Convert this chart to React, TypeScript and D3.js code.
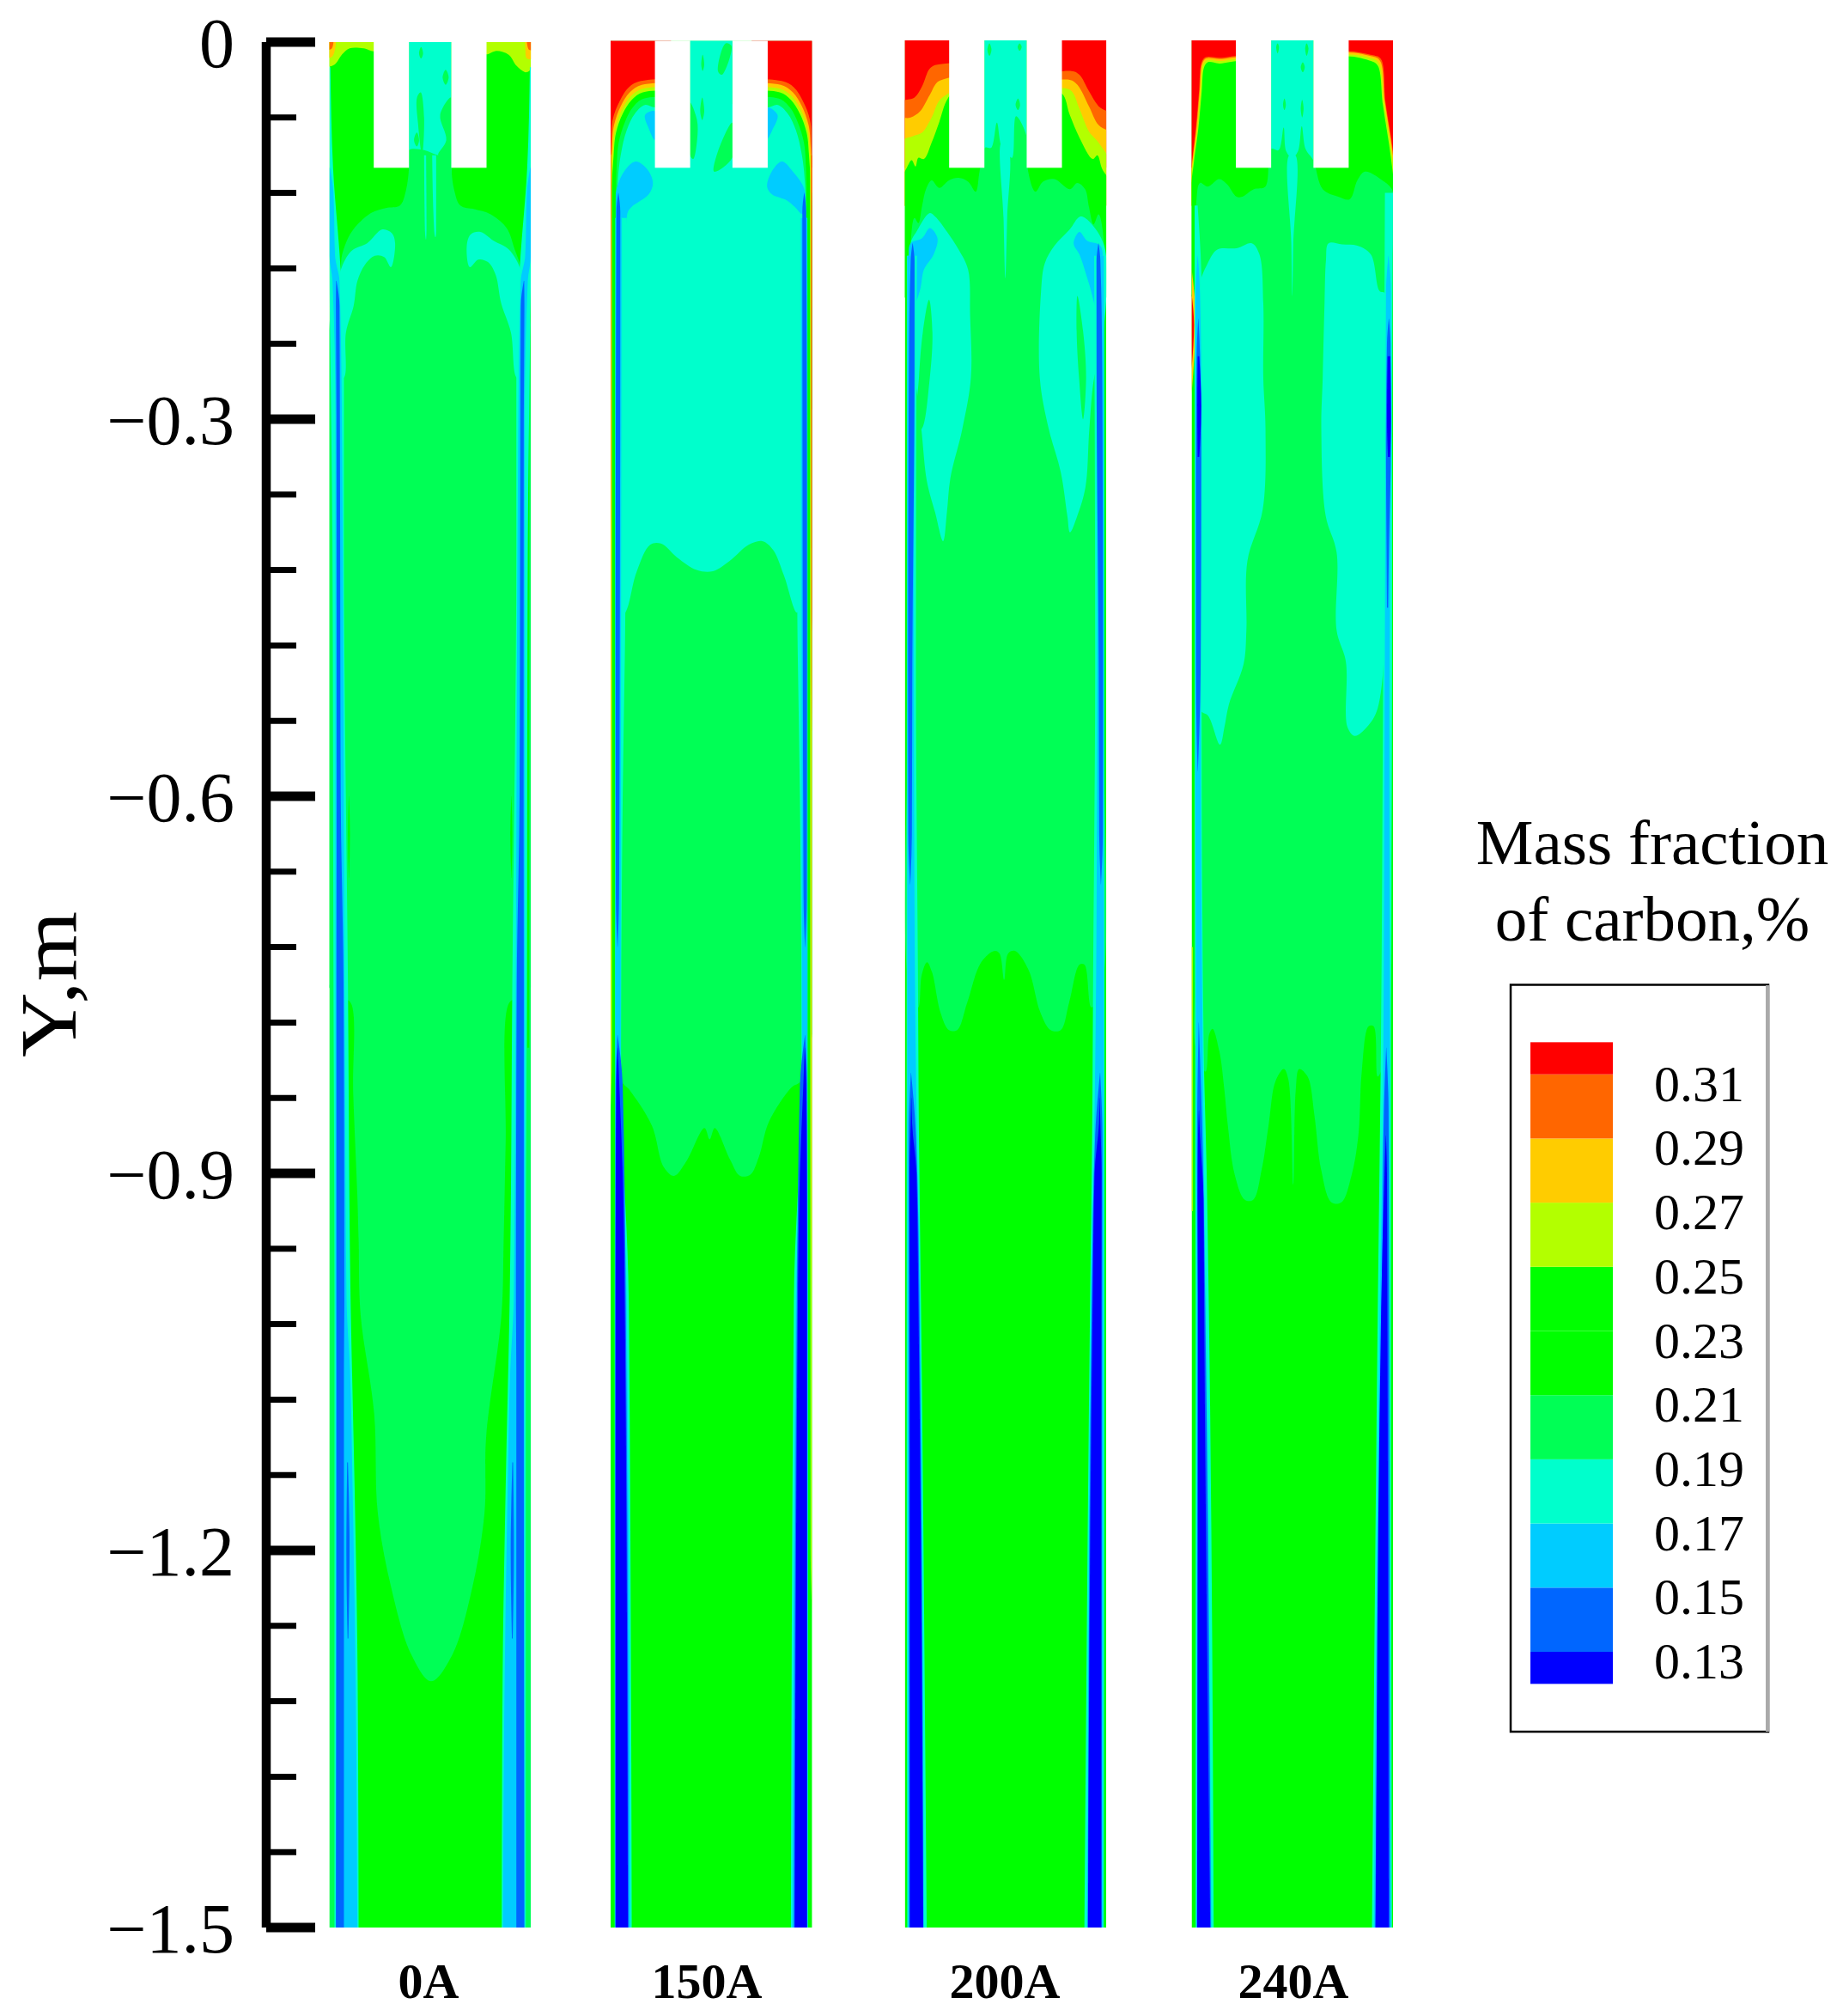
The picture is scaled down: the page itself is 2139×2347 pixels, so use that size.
import { useEffect, useRef } from "react";
import * as d3 from "d3";

type Pt = [number, number];
type Layer = { v: number; pts?: Pt[]; rows?: number[][]; mirror?: boolean };

// poly in [lateral %, depth m], strip rows in [depth m, lateral % from, lateral % to]
const P = (v: number, pts: Pt[], mirror = false): Layer => ({ v, pts, mirror });
const S = (v: number, rows: number[][], mirror = false): Layer => ({ v, rows, mirror });

const legendLevels = [0.31, 0.29, 0.27, 0.25, 0.23, 0.21, 0.19, 0.17, 0.15, 0.13];
const bandLower = [0.12, 0.13, 0.15, 0.17, 0.19, 0.21, 0.23, 0.25, 0.27, 0.29, 0.31];
const bandColors = ["#0000ff", "#0066ff", "#00ccff", "#00ffcc", "#00ff55", "#00ff00", "#00ff00", "#b3ff00", "#ffcc00", "#ff6600", "#ff0000"];

const panelNames = ["0A", "150A", "200A", "240A"];
const majorTicks = [0, -0.3, -0.6, -0.9, -1.2, -1.5];
const minorTicks = d3.range(0, 26).map((i) => -i * 0.06);

const field0A: Layer[] = [
  S(0.17, [[-0.01, 39.5, 60.5], [0.11, 39.5, 60.5]]),
  P(0.25, [[-1, -0.01], [22.5, -0.01], [22.5, 0.007], [17, 0.005], [10, 0.005], [6.3, 0.0098], [2.5, 0.018], [-1, 0.019]]),
  P(0.25, [[77.5, -0.01], [101, -0.01], [101, 0.019], [97.7, 0.024], [93, 0.019], [89, 0.01], [83, 0.007], [77.5, 0.0095]]),
  P(0.27, [[-1, -0.01], [2.6, -0.01], [2.6, 0.007], [1, 0.012], [-1, 0.012]]),
  P(0.29, [[-1, -0.01], [1.5, -0.01], [1.2, 0.005], [-1, 0.006]]),
  P(0.27, [[97.5, -0.01], [101, -0.01], [101, 0.013], [98, 0.013], [97.3, 0.005]]),
  P(0.29, [[98.5, -0.01], [101, -0.01], [101, 0.006], [99, 0.006]]),
  P(0.19, [
    [39.5, 0.086], [39.5, 0.1], [38, 0.118], [35, 0.13], [28, 0.132], [20.6, 0.136], [11, 0.151], [6.3, 0.169], [5.5, 0.18], [2, 0.2], [-1, 0.25], [-1, 0.75], [7, 0.76],
    [10.8, 0.765], [11.8, 0.836], [13.8, 0.915], [14.5, 0.954], [15.5, 1.013], [22.2, 1.091], [24, 1.17], [30.6, 1.229], [40.7, 1.283], [50.5, 1.304], [61, 1.283], [71, 1.229], [77, 1.17], [77.8, 1.11], [85.4, 1.013], [86.5, 0.954], [87.5, 0.875], [89, 0.765],
    [93, 0.76], [101, 0.75], [101, 0.25], [98, 0.2], [94.9, 0.178], [92, 0.165], [88, 0.148], [80, 0.137], [72, 0.133], [65, 0.13], [62, 0.118], [60.5, 0.1], [60.5, 0.09], [54, 0.09], [47, 0.086],
  ]),
  P(0.19, [[44.5, 0.009], [45.5, 0.004], [46.5, 0.009], [45.5, 0.013]]),
  P(0.19, [[56.2, 0.028], [57.7, 0.022], [59.2, 0.028], [57.7, 0.034]]),
  P(0.19, [[43.5, 0.044], [45.3, 0.04], [47, 0.06], [46, 0.09], [44, 0.065]]),
  P(0.19, [[60.5, 0.044], [55, 0.058], [58, 0.078], [54, 0.09], [60.5, 0.09]]),
  P(0.19, [[42, 0.078], [43.4, 0.072], [44.5, 0.078], [43.4, 0.083]]),
  S(0.17, [[0.09, 47, 48], [0.15, 47.4, 48.2], [0.157, 47.8, 48]]),
  S(0.17, [[0.09, 51, 53], [0.15, 52, 53], [0.155, 52.4, 52.8]]),
  P(0.17, [[5.7, 0.181], [11, 0.166], [18.7, 0.16], [26.3, 0.149], [31, 0.152], [32.6, 0.16], [30.5, 0.179], [27.2, 0.171], [22.5, 0.17], [17.7, 0.177], [13.9, 0.19], [12, 0.21], [8.2, 0.231], [7.2, 0.267], [4, 0.267], [4, 0.2]]),
  P(0.17, [[94.9, 0.181], [89.1, 0.165], [81.5, 0.158], [74.9, 0.151], [70.1, 0.153], [68.2, 0.162], [69.7, 0.179], [73.9, 0.173], [78.7, 0.175], [82.5, 0.185], [85.3, 0.208], [90.1, 0.231], [93, 0.267], [96, 0.267], [96, 0.2]]),
  S(0.19, [[0.75, 0, 3], [1.51, 0, 3]], true),
  S(0.21, [[0.6, 9.6, 9.7], [0.63, 9.2, 10.2], [0.665, 9.6, 9.7]], true),
  S(0.21, [[0.25, 98.2, 99.2], [0.8, 98.2, 99.2]]),
  S(0.17, [[0.02, 0, 0.5], [0.1, 0, 1.8], [0.18, 0, 5.5], [0.25, 0.5, 7.2], [0.4, 1.5, 7.2], [0.75, 2, 9.2], [1.0, 2.5, 10.5], [1.15, 2.5, 12.5], [1.3, 2.5, 14], [1.51, 2.5, 14.5]], true),
  S(0.15, [[0.1, 0, 0.3], [0.12, 0, 2], [0.17, 0, 2.8], [0.19, 1.5, 5], [0.3, 3, 6.2], [0.75, 3, 7.5], [1.0, 3, 8.5], [1.056, 3.2, 10.2], [1.15, 3.2, 11.5], [1.3, 3.2, 13], [1.51, 3.2, 13.9]], true),
  S(0.13, [[0.19, 3.3, 3.5], [0.21, 3.2, 5], [0.3, 3.5, 5.2], [0.6, 3.6, 5.6], [0.75, 3.5, 7], [1.0, 3.5, 7.4], [1.056, 3.5, 7.2], [1.51, 3.2, 7.2]], true),
  S(0.13, [[1.13, 8.8, 9.2], [1.2, 8.4, 10], [1.27, 9, 9.4]], true),
];

const field150A: Layer[] = [
  S(0.31, [[-0.01, -1, 30], [0.1, -1, 30]], true),
  P(0.29, [[30, 0.033], [15, 0.031], [9, 0.036], [4.5, 0.047], [1, 0.062], [0.2, 0.085], [-3, 0.3], [30, 0.09]], true),
  P(0.27, [[30, 0.036], [15.5, 0.034], [9.5, 0.04], [5, 0.051], [1.7, 0.066], [0.6, 0.085], [-3, 0.3], [30, 0.09]], true),
  P(0.25, [[30, 0.039], [16, 0.037], [10, 0.043], [5.5, 0.054], [2.2, 0.069], [1, 0.09], [-3, 0.3], [30, 0.09]], true),
  P(0.21, [[30, 0.042], [16, 0.04], [10.5, 0.046], [6, 0.057], [2.7, 0.072], [1.5, 0.09], [-3, 0.3], [30, 0.09]], true),
  P(0.19, [[30, 0.047], [16.5, 0.045], [11, 0.052], [7, 0.064], [4, 0.08], [3, 0.1], [2.5, 0.14], [2, 0.2], [30, 0.09]], true),
  P(0.19, [[5, 0.2], [95, 0.2], [95, 0.825], [89.6, 0.832], [78.6, 0.859], [73.6, 0.887], [69.4, 0.901], [64.3, 0.902], [59.3, 0.889], [51.7, 0.864], [49.2, 0.873], [46.6, 0.864], [37.4, 0.891], [31.5, 0.902], [26.4, 0.895], [20.5, 0.862], [9.6, 0.834], [5, 0.825]]),
  P(0.17, [[3, 0.16], [3.5, 0.112], [5, 0.09], [8, 0.07], [12, 0.057], [17, 0.05], [22, 0.052], [30, 0.05], [70, 0.05], [78, 0.052], [83, 0.05], [88, 0.057], [92, 0.07], [95, 0.09], [96.5, 0.112], [97, 0.16], [97, 0.3], [92.6, 0.454], [86, 0.424], [80.7, 0.404], [75.3, 0.397], [68.5, 0.4], [59, 0.413], [50.8, 0.421], [42.7, 0.42], [33, 0.41], [25, 0.399], [19.6, 0.4], [12.8, 0.422], [7.3, 0.454], [3, 0.46]]),
  S(0.17, [[-0.01, 39.4, 60.5], [0.11, 39.4, 60.5]]),
  P(0.19, [[57.1, 0.001], [53.3, 0.023], [55.2, 0.026], [60, 0.003]]),
  P(0.19, [[45, 0.018], [45.7, 0.01], [46.5, 0.018], [45.7, 0.023]]),
  P(0.19, [[39.4, 0.048], [42.9, 0.062], [43, 0.077], [41, 0.093], [39.4, 0.09]]),
  P(0.19, [[44.5, 0.055], [45.5, 0.044], [46.5, 0.055], [45.5, 0.062]]),
  P(0.19, [[60.4, 0.064], [53.3, 0.087], [51.4, 0.103], [60.4, 0.092]]),
  P(0.15, [[12.4, 0.095], [18.1, 0.101], [21, 0.112], [19, 0.121], [10.5, 0.131], [8.6, 0.135], [6.7, 0.151], [3.8, 0.153], [2.5, 0.121], [6.7, 0.103]]),
  P(0.15, [[85.1, 0.095], [90.5, 0.103], [96.2, 0.117], [96.2, 0.135], [95.2, 0.137], [91.4, 0.131], [87.6, 0.126], [80, 0.121], [77.7, 0.115], [80, 0.103]]),
  P(0.15, [[21.9, 0.055], [17.1, 0.058], [19, 0.069], [21.9, 0.078]]),
  P(0.15, [[77.7, 0.052], [82.9, 0.058], [80, 0.071], [77.7, 0.077]]),
  S(0.21, [[0.12, 0, 2.5], [1.51, 0, 2.5]], true),
  S(0.25, [[0.09, 0, 0.7], [0.8, 0, 0.7], [0.85, 0, 0]]),
  S(0.27, [[0.09, 0, 0.4], [0.5, 0, 0.3], [0.6, 0, 0]]),
  S(0.29, [[0.09, 0, 0.3], [0.35, 0, 0.15], [0.4, 0, 0]]),
  S(0.25, [[0.09, 99, 100], [1.2, 99.3, 100], [1.25, 100, 100]]),
  S(0.27, [[0.09, 99.4, 100], [0.9, 99.6, 100], [1, 100, 100]]),
  S(0.29, [[0.09, 99.6, 100], [0.5, 99.7, 100], [0.55, 100, 100]]),
  S(0.31, [[0.09, 99.7, 100], [0.45, 99.8, 100], [0.47, 100, 100]]),
  S(0.17, [[0.14, 2.3, 8], [0.454, 2.2, 7.3], [0.6, 2.2, 6], [0.8, 2.2, 5.2], [0.85, 2.2, 5.5], [1.0, 2, 9], [1.51, 2, 10.5]], true),
  S(0.15, [[0.14, 2.5, 5.5], [0.45, 2.3, 5.2], [0.83, 2.3, 5], [1.0, 2.2, 8], [1.51, 2.3, 9.8]], true),
  S(0.13, [[0.12, 3.8, 3.9], [0.135, 2.9, 4.8], [0.45, 2.5, 4.6], [0.68, 2.6, 4.2], [0.72, 3.4, 3.5]], true),
  S(0.13, [[0.79, 3.4, 3.5], [0.83, 2.5, 6], [1.0, 2.3, 7.5], [1.51, 2.4, 9]], true),
  S(0.12, [[0.8, 3.5, 3.6], [0.825, 2.9, 4.2], [0.9, 2.6, 6], [1.0, 2.5, 7], [1.51, 2.5, 8.6]], true),
];

const field200A: Layer[] = [
  S(0.31, [[-0.01, -1, 30], [0.1, -1, 30]], true),
  P(0.29, [[30, 0.02], [16.2, 0.018], [12.4, 0.021], [8.6, 0.035], [4.8, 0.044], [-3, 0.049], [-3, 0.13], [30, 0.09]]),
  P(0.27, [[30, 0.03], [17, 0.031], [12.4, 0.042], [7.6, 0.055], [2.9, 0.06], [-3, 0.062], [-3, 0.13], [30, 0.09]]),
  P(0.25, [[30, 0.038], [18, 0.045], [13.3, 0.06], [8.6, 0.072], [3.8, 0.075], [-3, 0.08], [-3, 0.13], [30, 0.09]]),
  P(0.21, [[30, 0.03], [21.3, 0.045], [17, 0.064], [13.3, 0.08], [9.5, 0.093], [6.7, 0.092], [5.3, 0.099], [3.4, 0.094], [1, 0.1], [-3, 0.115], [-3, 0.2], [30, 0.2]]),
  P(0.29, [[70, 0.029], [82.9, 0.023], [86.7, 0.026], [91.4, 0.039], [96.2, 0.051], [103, 0.059], [103, 0.13], [70, 0.09]]),
  P(0.27, [[70, 0.035], [81.9, 0.03], [85.7, 0.034], [91.4, 0.051], [96.2, 0.066], [103, 0.074], [103, 0.13], [70, 0.09]]),
  P(0.25, [[70, 0.04], [81.9, 0.038], [86.7, 0.053], [91.4, 0.071], [96.2, 0.08], [103, 0.099], [103, 0.13], [70, 0.09]]),
  P(0.21, [[70, 0.04], [78, 0.041], [81.9, 0.058], [86.7, 0.076], [93.3, 0.093], [95.6, 0.09], [98, 0.101], [103, 0.115], [103, 0.2], [70, 0.2]]),
  S(0.17, [[-0.01, 39.5, 60.5], [0.11, 39.5, 60.5]]),
  P(0.19, [
    [39.8, 0.084], [37.1, 0.103], [35.2, 0.119], [31.4, 0.111], [26.7, 0.108], [21.9, 0.11], [17.1, 0.116], [13.3, 0.11], [10.5, 0.117], [8.6, 0.13], [6.7, 0.144], [4.8, 0.14], [2.9, 0.16], [2, 0.25], [2, 0.5], [2, 0.75],
    [6.7, 0.768], [8.4, 0.742], [11, 0.732], [13.5, 0.74], [17.7, 0.772], [21.9, 0.786], [26, 0.786], [31, 0.764], [37.9, 0.732], [44.6, 0.723], [47, 0.725], [49.3, 0.746], [51.3, 0.725], [54.7, 0.723], [61.4, 0.738], [67.3, 0.772], [72.4, 0.786], [77.4, 0.786], [81.6, 0.764], [86.7, 0.734], [89.2, 0.734], [92.6, 0.768],
    [98, 0.75], [98, 0.5], [98, 0.25], [99, 0.162], [96.2, 0.137], [93.7, 0.145], [91.4, 0.131], [89.5, 0.117], [85.7, 0.112], [81.9, 0.117], [74.3, 0.109], [68.6, 0.111], [64.8, 0.119], [60.8, 0.099], [60.5, 0.075], [55.2, 0.059], [53.3, 0.092], [51.5, 0.09], [48, 0.083], [45.7, 0.064], [42.9, 0.084],
  ]),
  P(0.17, [[48, 0.08], [49, 0.14], [49.9, 0.188], [50.8, 0.14], [51.5, 0.085]]),
  P(0.19, [[41, 0.006], [42, 0.001], [43, 0.006], [42, 0.011]]),
  P(0.19, [[56, 0.004], [57, 0.001], [58, 0.004], [57, 0.007]]),
  P(0.19, [[55, 0.05], [56.2, 0.045], [57.2, 0.05], [56.2, 0.054]]),
  P(0.17, [[2.9, 0.16], [5.7, 0.151], [12.4, 0.136], [15.2, 0.139], [21, 0.151], [26.7, 0.165], [31.4, 0.181], [32.4, 0.217], [32.8, 0.267], [28.5, 0.308], [22.6, 0.347], [20.9, 0.374], [19, 0.397], [15, 0.374], [10.9, 0.349], [8.2, 0.308], [5, 0.267], [3, 0.25]]),
  P(0.17, [[99, 0.162], [89.5, 0.14], [86.7, 0.139], [81.9, 0.149], [74.3, 0.162], [69.5, 0.176], [67.6, 0.199], [67, 0.267], [71.5, 0.308], [77.4, 0.342], [80.7, 0.377], [82, 0.39], [85.6, 0.377], [89.7, 0.354], [91.6, 0.308], [94, 0.267], [97, 0.25]]),
  P(0.19, [[12, 0.205], [13.7, 0.231], [12.4, 0.267], [8.2, 0.308], [6, 0.308], [7, 0.267], [9, 0.23]]),
  P(0.19, [[85.7, 0.202], [88.5, 0.23], [90, 0.267], [88.5, 0.3], [86.5, 0.267], [85.3, 0.23]]),
  P(0.15, [[12.4, 0.148], [16.2, 0.156], [14.3, 0.169], [9.5, 0.181], [7.6, 0.197], [4.8, 0.208], [1.9, 0.169], [2.9, 0.16], [8.6, 0.156]]),
  P(0.15, [[86.7, 0.151], [90.5, 0.158], [97.1, 0.162], [98.1, 0.185], [96.2, 0.217], [91.4, 0.192], [86.7, 0.169], [83.8, 0.16]]),
  S(0.17, [[0.17, 1, 6], [0.5, 1, 5.5], [0.74, 0.9, 6.5], [0.87, 0.9, 7], [1.0, 0.9, 8], [1.51, 1.2, 10.9]], true),
  S(0.15, [[0.17, 1.2, 5], [0.5, 1.1, 4.5], [0.74, 1.2, 5], [0.87, 1.2, 6], [1, 1.4, 7.5], [1.51, 1.6, 9.5]], true),
  S(0.13, [[0.16, 3.8, 3.9], [0.174, 2.9, 4.8], [0.26, 2, 4.8], [0.5, 1.6, 3.7], [0.63, 1.7, 3.5], [0.67, 2.6, 2.7]], true),
  S(0.13, [[0.82, 3, 3.1], [0.87, 1.9, 5.5], [1.0, 2, 7.2], [1.51, 2.2, 9.2]], true),
  S(0.12, [[0.84, 3.2, 3.3], [0.86, 2.9, 3.6], [0.9, 2.3, 5.8], [1.0, 2.4, 6.7], [1.51, 2.5, 9.1]], true),
];

const field240A: Layer[] = [
  S(0.31, [[-0.01, -1, 30], [0.1, -1, 30]], true),
  P(0.29, [[30, 0.0135], [13.7, 0.0125], [7, 0.012], [5, 0.016], [3.7, 0.039], [2.2, 0.067], [0.3, 0.094], [-2, 0.13], [30, 0.09]]),
  P(0.27, [[30, 0.0145], [13.7, 0.0135], [7.2, 0.013], [5.3, 0.017], [4, 0.039], [2.5, 0.067], [0.5, 0.094], [-2, 0.13], [30, 0.09]]),
  P(0.25, [[30, 0.016], [13.7, 0.015], [7.6, 0.0145], [5.7, 0.018], [4.4, 0.04], [2.9, 0.068], [0.8, 0.095], [-2, 0.13], [30, 0.09]]),
  P(0.21, [[30, 0.018], [13.7, 0.017], [8, 0.016], [6.2, 0.02], [5, 0.04], [3.4, 0.068], [1.2, 0.095], [-2, 0.14], [-2, 0.2], [30, 0.2]]),
  P(0.29, [[70, 0.0105], [90, 0.0105], [94, 0.0135], [96.3, 0.048], [100, 0.087], [102, 0.13], [70, 0.09]]),
  P(0.27, [[70, 0.0115], [90, 0.0115], [93.6, 0.015], [96, 0.048], [99.7, 0.087], [102, 0.13], [70, 0.09]]),
  P(0.25, [[70, 0.013], [89.5, 0.013], [93, 0.017], [95.6, 0.048], [99.3, 0.088], [102, 0.13], [70, 0.09]]),
  P(0.21, [[70, 0.015], [89, 0.015], [92.5, 0.019], [95, 0.05], [98.8, 0.09], [102, 0.14], [102, 0.2], [70, 0.2]]),
  S(0.17, [[-0.01, 39.5, 60.5], [0.11, 39.5, 60.5]]),
  P(0.19, [
    [39.4, 0.085], [36.6, 0.115], [30.9, 0.117], [25.1, 0.123], [22.3, 0.123], [17.5, 0.113], [13.7, 0.109], [8, 0.115], [4.2, 0.112], [2.3, 0.128], [2, 0.2], [1.5, 0.5], [1.5, 0.75], [2, 0.8],
    [7, 0.819], [8.8, 0.789], [10.4, 0.785], [13.8, 0.803], [16.3, 0.834], [18, 0.862], [21.4, 0.901], [26.4, 0.921], [30.6, 0.921], [34.8, 0.897], [38.2, 0.862], [41.6, 0.827], [45.8, 0.817], [48, 0.825], [50.5, 0.909], [51.7, 0.834], [53.4, 0.817], [57.6, 0.823], [61, 0.854], [64.3, 0.897], [69.4, 0.923], [74.4, 0.923], [79.5, 0.901], [82.8, 0.87], [84.5, 0.819], [87.9, 0.783], [90.4, 0.783], [92.4, 0.823],
    [97, 0.8], [98.5, 0.5], [98.5, 0.2], [100, 0.119], [94.7, 0.11], [86.1, 0.103], [82.3, 0.11], [78.5, 0.125], [72.8, 0.123], [65.1, 0.117], [60.4, 0.094], [56.6, 0.085], [54.7, 0.067], [52.8, 0.087], [49.9, 0.092], [47, 0.087], [45.7, 0.068], [43.2, 0.086],
  ]),
  P(0.17, [[48.5, 0.09], [49.5, 0.16], [50, 0.202], [50.5, 0.16], [51.5, 0.09]]),
  P(0.19, [[42, 0.004], [42.7, 0.001], [43.4, 0.004], [42.7, 0.009]]),
  P(0.19, [[56.4, 0.005], [57.1, 0.001], [58, 0.005], [57.1, 0.011]]),
  P(0.19, [[54.2, 0.02], [55.2, 0.016], [56.2, 0.02], [55.2, 0.024]]),
  P(0.19, [[45.4, 0.05], [46.1, 0.045], [46.8, 0.05], [46.1, 0.054]]),
  P(0.19, [[54.2, 0.053], [54.9, 0.046], [55.6, 0.053], [54.9, 0.06]]),
  P(0.17, [[8, 0.176], [12.8, 0.165], [22.3, 0.164], [29.9, 0.16], [33.7, 0.169], [35.6, 0.208], [35.6, 0.267], [36.7, 0.308], [35.3, 0.372], [27.7, 0.413], [27.2, 0.468], [25.8, 0.495], [18.5, 0.527], [16.3, 0.545], [14.1, 0.559], [8.2, 0.536], [4, 0.531], [3, 0.4], [3, 0.2]]),
  P(0.17, [[68, 0.16], [74.7, 0.161], [82.3, 0.162], [89, 0.169], [93.3, 0.198], [96, 0.2], [97, 0.4], [92.4, 0.53], [87, 0.545], [81, 0.552], [77.4, 0.545], [76.6, 0.493], [72, 0.468], [72, 0.406], [66.6, 0.377], [64.4, 0.308], [65.1, 0.267], [66, 0.208], [66.7, 0.174]]),
  S(0.25, [[0.72, 0, 0.6], [0.93, 0, 0.6]]),
  S(0.27, [[0.18, 0, 0], [0.22, 0, 2], [0.28, 0, 0]]),
  S(0.31, [[0.2, 0, 0], [0.225, 0, 1.2], [0.26, 0, 0]]),
  S(0.17, [[0.13, 1.5, 3], [0.2, 1.5, 5], [0.3, 1.5, 5], [0.55, 1.5, 5], [0.8, 1.8, 6], [0.9, 1.8, 7.5], [1.0, 2, 8.5], [1.51, 2, 11]]),
  S(0.15, [[0.17, 3, 3.1], [0.2, 2, 4.2], [0.3, 1.8, 5], [0.55, 1.8, 4.5], [0.8, 2.2, 5.5], [0.88, 2.2, 6], [1, 2.6, 7], [1.51, 2.5, 10]]),
  S(0.13, [[0.22, 3.3, 3.4], [0.25, 2.5, 4.2], [0.33, 2.2, 4.8], [0.5, 2.2, 4.5], [0.55, 2.5, 3.8], [0.58, 3, 3.1]]),
  S(0.13, [[0.78, 3.5, 3.6], [0.88, 2.7, 5.5], [1, 2.9, 6.7], [1.51, 2.7, 9.6]]),
  S(0.12, [[0.25, 3, 3.8], [0.29, 2.8, 4.8], [0.33, 3, 3.8]]),
  S(0.12, [[0.85, 3.6, 3.7], [0.87, 3.2, 4.2], [0.92, 3, 5.9], [1, 3.2, 6.2], [1.51, 2.7, 9.3]]),
  S(0.17, [[0.12, 96, 100], [0.3, 95.5, 99.6], [0.53, 95, 99.5], [0.8, 94, 99], [1, 92.5, 99], [1.51, 89.5, 99.5]]),
  S(0.15, [[0.17, 97.7, 97.8], [0.2, 96.5, 99], [0.3, 96.3, 99], [0.55, 95.8, 98.2], [0.85, 95, 98.5], [1, 93.5, 98], [1.51, 90.5, 99]]),
  S(0.13, [[0.22, 97.9, 98], [0.24, 97, 98.8], [0.32, 96.5, 99], [0.4, 96.8, 98], [0.45, 97, 97.6]]),
  S(0.13, [[0.8, 96.6, 96.7], [0.85, 95.5, 97.8], [0.95, 94.8, 98], [1.51, 91, 98.5]]),
  S(0.12, [[0.25, 97.3, 98.7], [0.3, 97, 99], [0.33, 97.5, 98.5]]),
  S(0.12, [[0.87, 96.4, 96.5], [0.9, 95.8, 97], [1, 94.2, 97.2], [1.51, 91.4, 97.9]]),
];

const fields = [field0A, field150A, field200A, field240A];

// layout
const panelLeft = [383.6, 711, 1053.6, 1387.5];
const panelWidth = 234.5;
const panelTop = [49, 47.5, 47, 47];
const labelCenter = [499, 823, 1170, 1506];
const notches = [[22, 39.5], [60.5, 78]];

const depth = d3.scaleLinear().domain([0, 1.5]).range([49, 2244]);
const yAxisScale = d3.scaleLinear().domain([0, -1.5]).range([49, 2244]);
const legendY = d3.scaleLinear().domain([0.13, 0.31]).range([1923, 1250.7]);
const bandColor = d3.scaleOrdinal<number, string>().domain(bandLower).range(bandColors);
const serif = "'Liberation Serif', 'Times New Roman', serif";

const polyLine = d3.line<Pt>().curve(d3.curveCatmullRomClosed.alpha(0.5));
const stripArea = d3.area<number[]>().curve(d3.curveMonotoneY);

function layerPath(layer: Layer, x: d3.ScaleLinear<number, number>, flip: boolean) {
  const u = (v: number) => x(flip ? 100 - v : v);
  if (layer.pts) {
    return polyLine(layer.pts.map((p) => [u(p[0]), depth(p[1])] as Pt));
  }
  return stripArea
    .y((r) => depth(r[0]))
    .x0((r) => u(r[1]))
    .x1((r) => u(r[2]))(layer.rows);
}

function Panel({ index }: { index: number }) {
  const x = d3.scaleLinear().domain([0, 100]).range([panelLeft[index], panelLeft[index] + panelWidth]);
  const top = panelTop[index];
  const bottom = depth(1.5);
  return (
    <g filter="url(#soft)">
      <clipPath id={`panel-${index}`}>
        <rect x={x(0)} y={top} width={panelWidth} height={bottom - top} />
      </clipPath>
      <g clipPath={`url(#panel-${index})`}>
        <rect x={x(0)} y={top} width={panelWidth} height={bottom - top} fill={bandColor(0.21)} />
        {fields[index].map((layer, i) => (
          <g key={i} fill={bandColor(layer.v)}>
            <path d={layerPath(layer, x, false) ?? ""} />
            {layer.mirror && <path d={layerPath(layer, x, true) ?? ""} />}
          </g>
        ))}
        {notches.map(([a, b]) => (
          <rect key={a} x={x(a)} y={top - 2} width={x(b) - x(a)} height={depth(0.1) - top + 2} fill="#fff" />
        ))}
      </g>
    </g>
  );
}

export default function App() {
  const axisRef = useRef<SVGGElement>(null);

  useEffect(() => {
    const g = d3.select(axisRef.current);
    g.selectAll("*").remove();
    const minor = g.append("g").attr("transform", "translate(310,0)");
    minor.call(d3.axisRight(yAxisScale).tickValues(minorTicks).tickSize(35).tickSizeOuter(0).tickFormat(() => "").offset(0));
    minor.selectAll(".tick line").attr("stroke", "#000").attr("stroke-width", 7);
    minor.select(".domain").attr("stroke", "#000").attr("stroke-width", 10.5);

    const major = g.append("g").attr("transform", "translate(310,0)");
    major.call(d3.axisRight(yAxisScale).tickValues(majorTicks).tickSize(57).tickSizeOuter(0).tickFormat(() => "").offset(0));
    major.selectAll(".tick line").attr("stroke", "#000").attr("stroke-width", 11);
    major.select(".domain").remove();

    const labels = g.append("g").attr("transform", "translate(310,0)");
    labels.call(
      d3
        .axisLeft(yAxisScale)
        .tickValues(majorTicks)
        .tickSize(0)
        .tickPadding(37)
        .tickFormat((v) => (+v === 0 ? "0" : `\u2212${Math.abs(+v).toFixed(1)}`))
        .offset(0)
    );
    labels.select(".domain").remove();
    labels.selectAll(".tick text").attr("dy", 29).attr("font-size", 82).attr("font-family", serif).attr("fill", "#000");
  }, []);

  return (
    <svg width={2139} height={2347} viewBox="0 0 2139 2347" style={{ position: "absolute", left: 0, top: 0, background: "#fff" }}>
      <defs>
        <filter id="soft" x="-2%" y="-1%" width="104%" height="102%">
          <feGaussianBlur stdDeviation="0.7" />
        </filter>
      </defs>
      {panelNames.map((_, i) => (
        <Panel key={i} index={i} />
      ))}
      <g ref={axisRef} />
      <text transform="translate(88,1231) rotate(-90)" fontFamily={serif} fontSize={94} textLength={170} lengthAdjust="spacingAndGlyphs" fill="#000">
        Y,m
      </text>
      {panelNames.map((name, i) => (
        <text key={name} x={labelCenter[i]} y={2326} textAnchor="middle" fontFamily={serif} fontWeight="bold" fontSize={58} fill="#000">
          {name}
        </text>
      ))}
      <text x={1924} y={1006} textAnchor="middle" fontFamily={serif} fontSize={75} fill="#000">
        Mass fraction
      </text>
      <text x={1924} y={1095} textAnchor="middle" fontFamily={serif} fontSize={75} fill="#000">
        of carbon,%
      </text>
      <rect x={1759} y={1146.5} width={300} height={869.5} fill="#fff" stroke="#000" strokeWidth={2.5} />
      <line x1={2058} y1={1147} x2={2058} y2={2016} stroke="#aaa" strokeWidth={4} />
      {bandLower.map((lo, i) => {
        const hi = i === 0 ? 0.13 : i === bandLower.length - 1 ? 0.32 : bandLower[i + 1];
        return <rect key={lo} x={1782} y={legendY(hi)} width={96} height={legendY(lo) - legendY(hi)} fill={bandColor(lo)} />;
      })}
      {legendLevels.map((v) => (
        <text key={v} x={1926} y={legendY(v) + 31} fontFamily={serif} fontSize={60} fill="#000">
          {v.toFixed(2)}
        </text>
      ))}
    </svg>
  );
}
